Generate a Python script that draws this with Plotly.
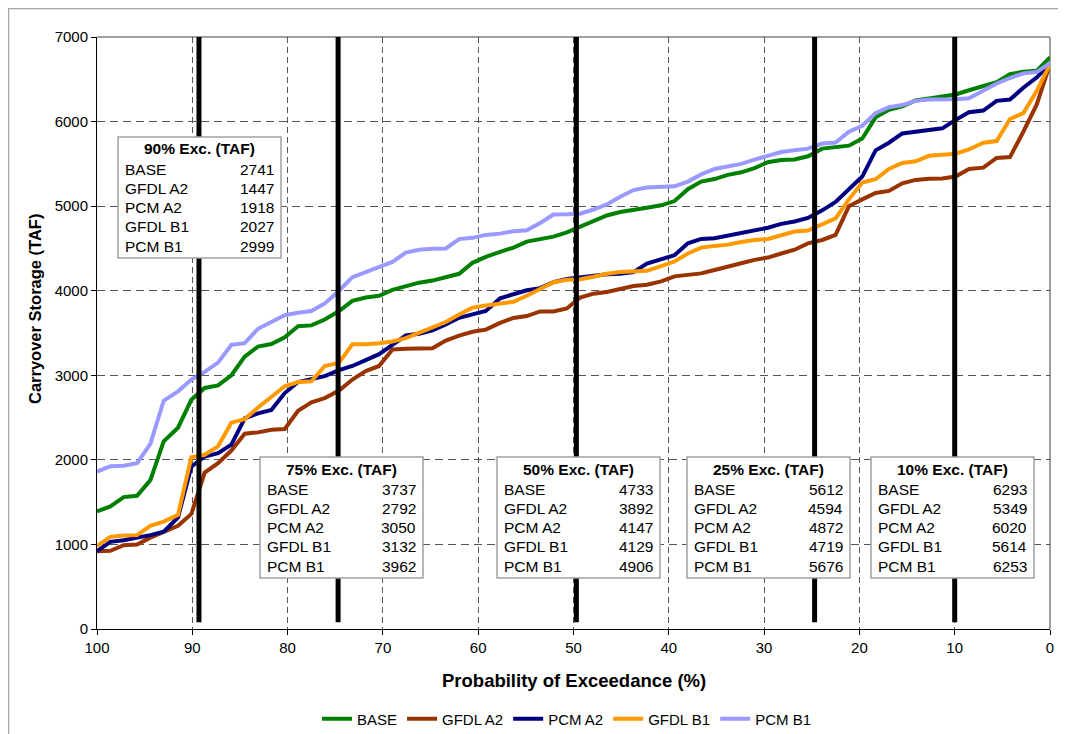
import plotly.graph_objects as go

# exceedance probability (%) of each sorted year, 72 years
exceedance = [100.0, 98.6, 97.2, 95.8, 94.4, 93.0, 91.5, 90.1, 88.7, 87.3, 85.9, 84.5,
              83.1, 81.7, 80.3, 78.9, 77.5, 76.1, 74.6, 73.2, 71.8, 70.4, 69.0, 67.6,
              66.2, 64.8, 63.4, 62.0, 60.6, 59.2, 57.7, 56.3, 54.9, 53.5, 52.1, 50.7,
              49.3, 47.9, 46.5, 45.1, 43.7, 42.3, 40.8, 39.4, 38.0, 36.6, 35.2, 33.8,
              32.4, 31.0, 29.6, 28.2, 26.8, 25.4, 23.9, 22.5, 21.1, 19.7, 18.3, 16.9,
              15.5, 14.1, 12.7, 11.3, 9.9, 8.5, 7.0, 5.6, 4.2, 2.8, 1.4, 0.0]

base = [1390, 1450, 1560, 1575, 1760, 2220, 2380, 2710, 2850, 2880, 3000, 3220, 3340, 3370, 3450, 3580,
        3590, 3660, 3760, 3880, 3920, 3940, 4010, 4050, 4095, 4120, 4160, 4200, 4330, 4400, 4460,
        4510, 4580, 4605, 4640, 4690, 4760, 4820, 4890, 4930, 4950, 4980, 5010, 5060, 5200, 5290,
        5320, 5370, 5400, 5450, 5520, 5545, 5552, 5590, 5680, 5697, 5715, 5800, 6050,
        6140, 6180, 6250, 6275, 6290, 6320, 6370, 6425, 6465, 6560, 6590, 6600, 6760]

gfdl_a2 = [920, 925, 990, 1000, 1080, 1150, 1220, 1360, 1850, 1960, 2110, 2310, 2325, 2355, 2365, 2580,
           2680, 2730, 2820, 2950, 3050, 3110, 3305, 3313, 3313, 3320, 3410, 3470, 3515, 3540, 3620,
           3678, 3700, 3755, 3755, 3790, 3920, 3965, 3985, 4020, 4055, 4070, 4110, 4170, 4185, 4205,
           4245, 4290, 4325, 4365, 4392, 4440, 4485, 4560, 4600, 4660, 5000, 5080, 5155,
           5180, 5270, 5310, 5325, 5328, 5350, 5440, 5455, 5570, 5580, 5880, 6200, 6680]

pcm_a2 = [920, 1030, 1050, 1075, 1110, 1150, 1320, 1920, 2040, 2080, 2180, 2490, 2550, 2590, 2790, 2920,
          2950, 2990, 3060, 3110, 3180, 3250, 3360, 3470, 3490, 3530, 3600, 3680, 3720, 3760, 3910,
          3960, 4005, 4030, 4100, 4140, 4160, 4185, 4195, 4200, 4220, 4320, 4370, 4420, 4560, 4612,
          4620, 4650, 4685, 4720, 4745, 4790, 4818, 4860, 4950, 5050, 5200, 5350, 5660,
          5750, 5860, 5880, 5905, 5920, 6020, 6110, 6130, 6245, 6260, 6400, 6520, 6680]

gfdl_b1 = [980, 1090, 1105, 1110, 1220, 1270, 1350, 2030, 2060, 2160, 2440, 2480, 2620, 2740, 2870, 2920,
           2930, 3110, 3150, 3368, 3368, 3380, 3400, 3440, 3500, 3560, 3630, 3720, 3800, 3825, 3854,
           3870, 3940, 4020, 4100, 4130, 4135, 4165, 4200, 4222, 4230, 4235, 4290, 4345, 4440, 4510,
           4530, 4545, 4575, 4600, 4612, 4660, 4700, 4712, 4790, 4855, 5080, 5280, 5318,
           5440, 5510, 5530, 5595, 5612, 5620, 5670, 5750, 5770, 6030, 6100, 6360, 6680]

pcm_b1 = [1860, 1925, 1930, 1960, 2190, 2700, 2810, 2950, 3040, 3150, 3360, 3380, 3550, 3630, 3710, 3740,
          3760, 3850, 4000, 4160, 4220, 4280, 4340, 4450, 4485, 4495, 4500, 4610, 4625, 4660, 4675,
          4704, 4715, 4800, 4900, 4903, 4910, 4960, 5020, 5110, 5190, 5220, 5225, 5235, 5290, 5375,
          5440, 5470, 5500, 5550, 5600, 5640, 5660, 5680, 5740, 5752, 5880, 5950, 6100,
          6170, 6195, 6245, 6260, 6261, 6263, 6275, 6370, 6450, 6515, 6570, 6585, 6690]

series_names = ["BASE", "GFDL A2", "PCM A2", "GFDL B1", "PCM B1"]
series_values = [base, gfdl_a2, pcm_a2, gfdl_b1, pcm_b1]
series_colors = ["#008000", "#993300", "#000080", "#FF9900", "#9999FF"]

# marker lines and the summary tables
marker_levels = ["90%", "75%", "50%", "25%", "10%"]
marker_x = [89.3, 74.7, 49.7, 24.7, 10.0]
table_values = [
    [2741, 1447, 1918, 2027, 2999],
    [3737, 2792, 3050, 3132, 3962],
    [4733, 3892, 4147, 4129, 4906],
    [5612, 4594, 4872, 4719, 5676],
    [6293, 5349, 6020, 5614, 6253],
]

FONT = "Arial, Liberation Sans, sans-serif"
# page has an 8px body margin, so the figure is drawn 8px in from the window corner
W, H = 1058, 726
L, R, T, B = 89, 16, 29, 105
PW, PH = W - L - R, H - T - B
OX, OY = 8 + L, 8 + T  # window position of plot area top-left


def px(x):
    return (x - OX) / PW


def py(y):
    return (OY + PH - y) / PH


fig = go.Figure()

for name, vals, col in zip(series_names, series_values, series_colors):
    fig.add_trace(go.Scatter(x=exceedance, y=vals, mode="lines", name=name,
                             line=dict(color=col, width=4)))

for mx in marker_x:
    fig.add_trace(go.Scatter(x=[mx, mx], y=[80, 7000], mode="lines", showlegend=False,
                             hoverinfo="skip", line=dict(color="black", width=5)))

# table boxes (window pixel positions)
box_left = [118, 260, 497, 687, 871]
box_top = [137, 457, 457, 457, 457]
bw, bh = 163, 121

shapes = []
annotations = []
tf = dict(size=15.5, color="black")
for lvl, vals, bl, bt in zip(marker_levels, table_values, box_left, box_top):
    shapes.append(dict(type="rect", xref="paper", yref="paper",
                       x0=px(bl), x1=px(bl + bw), y0=py(bt + bh), y1=py(bt),
                       fillcolor="white", line=dict(color="#a0a0a0", width=1.5), layer="above"))
    annotations.append(dict(xref="paper", yref="paper", x=px(bl + bw / 2), y=py(bt + 12),
                            text=f"<b>{lvl} Exc. (TAF)</b>", showarrow=False,
                            xanchor="center", yanchor="middle", font=tf))
    for k, (nm, v) in enumerate(zip(series_names, vals)):
        ry = py(bt + 32 + k * 19.25)
        annotations.append(dict(xref="paper", yref="paper", x=px(bl + 5), y=ry, text=nm,
                                showarrow=False, xanchor="left", yanchor="middle", font=tf))
        annotations.append(dict(xref="paper", yref="paper", x=px(bl + bw - 5), y=ry, text=str(v),
                                showarrow=False, xanchor="right", yanchor="middle", font=tf))

# plot area top / right border, outer chart frame
shapes.append(dict(type="line", xref="paper", yref="paper", x0=0, x1=1, y0=1, y1=1,
                   line=dict(color="#808080", width=1.5), layer="between"))
shapes.append(dict(type="line", xref="paper", yref="paper", x0=1, x1=1, y0=0, y1=1,
                   line=dict(color="#808080", width=1.5), layer="between"))
shapes.append(dict(type="rect", xref="paper", yref="paper", x0=px(8), x1=px(1075),
                   y0=py(800), y1=py(8), line=dict(color="#a6a6a6", width=2.5), layer="below"))

annotations.append(dict(xref="paper", yref="paper", x=0.5, y=py(680),
                        text="<b>Probability of Exceedance (%)</b>", showarrow=False,
                        xanchor="center", yanchor="middle", font=dict(size=18.5, color="black")))
annotations.append(dict(xref="paper", yref="paper", x=px(35), y=py(309), textangle=-90,
                        text="<b>Carryover Storage (TAF)</b>", showarrow=False,
                        xanchor="center", yanchor="middle", font=dict(size=16.5, color="black")))

fig.update_layout(
    width=W, height=H,
    margin=dict(l=L, r=R, t=T, b=B, autoexpand=False),
    paper_bgcolor="white", plot_bgcolor="white",
    font=dict(family=FONT, color="black"),
    showlegend=True,
    legend=dict(orientation="h", xref="container", yref="container",
                x=(567 - 8) / W, y=1 - (719 - 8) / H, xanchor="center", yanchor="middle",
                font=dict(size=15), itemwidth=30, tracegroupgap=0),
    shapes=shapes,
    annotations=annotations,
)
fig.update_xaxes(range=[100, 0], tickmode="array", tickvals=list(range(0, 101, 10)),
                 showgrid=True, gridcolor="#555555", gridwidth=1, griddash="6px,4px",
                 showline=True, linecolor="black", linewidth=1, zeroline=False,
                 ticks="outside", ticklen=5, tickcolor="black", tickfont=dict(size=15))
fig.update_yaxes(range=[0, 7000], tickmode="array", tickvals=list(range(0, 7001, 1000)),
                 showgrid=True, gridcolor="#555555", gridwidth=1, griddash="8px,5px",
                 showline=True, linecolor="black", linewidth=1, zeroline=False,
                 ticks="outside", ticklen=5, tickcolor="black", tickfont=dict(size=15))

fig.write_html("out.html")
